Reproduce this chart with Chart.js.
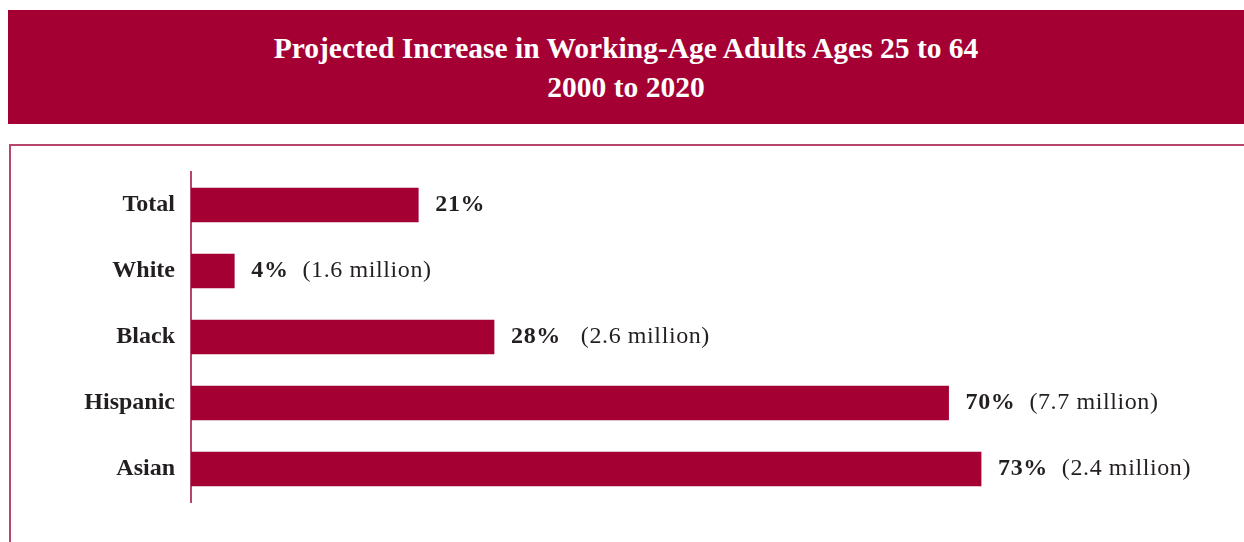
<!DOCTYPE html>
<html>
<head>
<meta charset="utf-8">
<script src="https://cdn.jsdelivr.net/npm/chart.js@4/dist/chart.umd.min.js"></script>
<style>
  html, body { margin: 0; padding: 0; background: #fff; }
  body { width: 1244px; height: 542px; position: relative; overflow: hidden; font-family: "Liberation Serif", "DejaVu Serif", serif; }
  .banner {
    position: absolute; left: 8px; top: 10px; width: 1236px; height: 114px;
    background: #a50034; color: #fff; text-align: center;
    font-weight: bold; font-size: 29.5px; line-height: 39px;
    box-sizing: border-box; padding-top: 19px;
  }
  .frame {
    position: absolute; left: 9px; top: 144px; width: 1240px; height: 400px;
    border-top: 2px solid #b8456b; border-left: 2px solid #b8456b;
  }
  #wrap { position: absolute; left: 0; top: 0; width: 1244px; height: 542px; }
</style>
</head>
<body>
<div class="banner">Projected Increase in Working-Age Adults Ages 25 to 64<br>2000 to 2020</div>
<div class="frame"></div>
<div id="wrap"><canvas id="chart"></canvas></div>
<script>
const categories = ["Total", "White", "Black", "Hispanic", "Asian"];
const pctValues = [21, 4, 28, 70, 73];
const millionLabels = [null, "(1.6 million)", "(2.6 million)", "(7.7 million)", "(2.4 million)"];

const barColor = "#a50034";
const textColor = "#231f20";

// draws "21%" bold plus the optional "(x million)" after each bar end
const valueLabels = {
  id: "valueLabels",
  afterDatasetsDraw(chart) {
    const ctx = chart.ctx;
    const meta = chart.getDatasetMeta(0);
    ctx.save();
    ctx.textBaseline = "middle";
    ctx.textAlign = "left";
    ctx.fillStyle = textColor;
    ctx.letterSpacing = "0.6px";
    meta.data.forEach((bar, i) => {
      let x = bar.x + 17;
      const y = bar.y;
      ctx.font = "bold 24px 'Liberation Serif', serif";
      const pct = pctValues[i] + "%";
      ctx.fillText(pct, x, y);
      x += ctx.measureText(pct).width;
      if (millionLabels[i]) {
        ctx.font = "24px 'Liberation Serif', serif";
        ctx.fillText(millionLabels[i], x + (i === 2 ? 20 : 14), y);
      }
    });
    ctx.restore();
  }
};

new Chart(document.getElementById("chart"), {
  type: "bar",
  data: {
    labels: categories,
    datasets: [{
      data: pctValues,
      backgroundColor: barColor,
      barThickness: 34,
      borderWidth: 0
    }]
  },
  options: {
    indexAxis: "y",
    responsive: true,
    maintainAspectRatio: false,
    animation: false,
    layout: { padding: { left: 0, right: 14, top: 172, bottom: 40 } },
    plugins: { legend: { display: false }, tooltip: { enabled: false } },
    scales: {
      x: { display: false, min: 0, max: 96 },
      y: {
        afterFit(scale) { scale.width = 191; },
        grid: { display: false, drawTicks: false },
        border: { display: true, color: "#b8456b", width: 2 },
        ticks: {
          padding: 16,
          color: textColor,
          font: { family: "'Liberation Serif', serif", size: 24, weight: "bold" }
        }
      }
    }
  },
  plugins: [valueLabels]
});
</script>
</body>
</html>
